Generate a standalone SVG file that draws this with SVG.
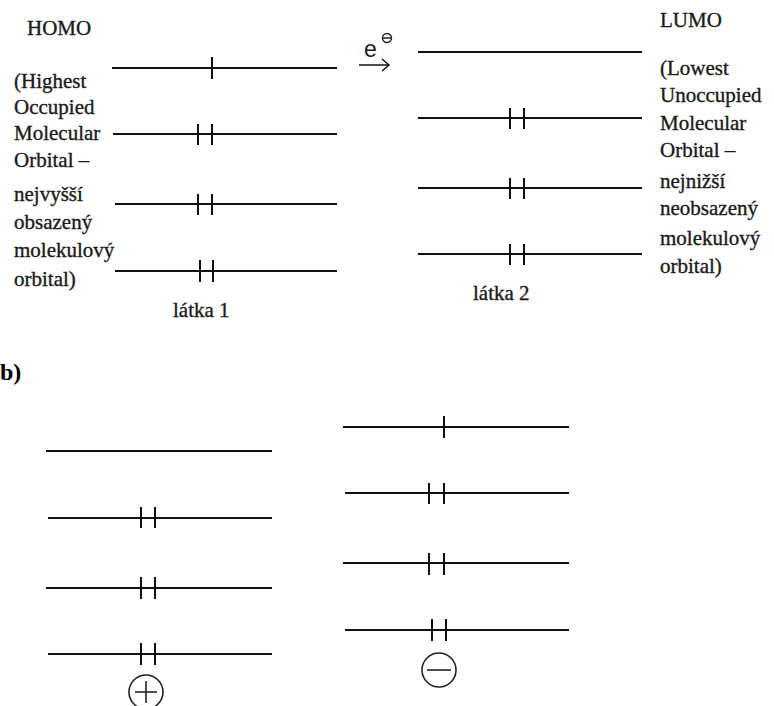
<svg xmlns="http://www.w3.org/2000/svg" width="774" height="706" viewBox="0 0 774 706">
<style>
.lv{stroke:#111;stroke-width:2;fill:none}
.tk{stroke:#111;stroke-width:2}
.t{font-family:"Liberation Serif","Times New Roman",serif;font-size:21px;fill:#1a1a1a;stroke:#1a1a1a;stroke-width:0.35}
.b{font-family:"Liberation Serif","Times New Roman",serif;font-size:24px;font-weight:bold;fill:#000}
.e{font-family:"Liberation Sans",Arial,sans-serif;font-size:23px;fill:#1a1a1a}
.c{stroke:#222;stroke-width:1.6;fill:none}
</style>
<rect width="774" height="706" fill="#fff"/>
<g id="label-homo">
<text class="t" x="27" y="35">HOMO</text>
<text class="t" x="14" y="88">(Highest</text>
<text class="t" x="14" y="114">Occupied</text>
<text class="t" x="14" y="140">Molecular</text>
<text class="t" x="14" y="167">Orbital –</text>
<text class="t" x="14" y="201">nejvyšší</text>
<text class="t" x="14" y="229">obsazený</text>
<text class="t" x="14" y="257">molekulový</text>
<text class="t" x="14" y="286">orbital)</text>
</g>
<g id="label-lumo">
<text class="t" x="660" y="27">LUMO</text>
<text class="t" x="660" y="75">(Lowest</text>
<text class="t" x="660" y="102">Unoccupied</text>
<text class="t" x="660" y="130">Molecular</text>
<text class="t" x="660" y="157">Orbital –</text>
<text class="t" x="660" y="188">nejnižší</text>
<text class="t" x="660" y="215">neobsazený</text>
<text class="t" x="660" y="245">molekulový</text>
<text class="t" x="660" y="273">orbital)</text>
</g>
<g id="s1-level1"><line class="lv" x1="112" y1="68" x2="337" y2="68"/><line class="tk" x1="212" y1="57" x2="212" y2="79"/></g>
<g id="s1-level2"><line class="lv" x1="113" y1="134" x2="337" y2="134"/><line class="tk" x1="198" y1="124" x2="198" y2="145"/><line class="tk" x1="212" y1="124" x2="212" y2="145"/></g>
<g id="s1-level3"><line class="lv" x1="115" y1="204" x2="337" y2="204"/><line class="tk" x1="198" y1="194" x2="198" y2="215"/><line class="tk" x1="212" y1="194" x2="212" y2="215"/></g>
<g id="s1-level4"><line class="lv" x1="115" y1="271" x2="337" y2="271"/><line class="tk" x1="200" y1="260" x2="200" y2="282"/><line class="tk" x1="213" y1="260" x2="213" y2="282"/></g>
<g id="label-latka1"><text class="t" x="173" y="317">látka 1</text></g>
<g id="s2-level1"><line class="lv" x1="418" y1="52" x2="642" y2="52"/></g>
<g id="s2-level2"><line class="lv" x1="418" y1="118" x2="642" y2="118"/><line class="tk" x1="510" y1="108" x2="510" y2="129"/><line class="tk" x1="524" y1="108" x2="524" y2="129"/></g>
<g id="s2-level3"><line class="lv" x1="418" y1="188" x2="642" y2="188"/><line class="tk" x1="510" y1="178" x2="510" y2="199"/><line class="tk" x1="524" y1="178" x2="524" y2="199"/></g>
<g id="s2-level4"><line class="lv" x1="418" y1="254" x2="642" y2="254"/><line class="tk" x1="510" y1="244" x2="510" y2="265"/><line class="tk" x1="524" y1="244" x2="524" y2="265"/></g>
<g id="label-latka2"><text class="t" x="473" y="300">látka 2</text></g>
<g id="label-b"><text class="b" x="0" y="380">b)</text></g>
<g id="b1-level1"><line class="lv" x1="46" y1="451" x2="272" y2="451"/></g>
<g id="b1-level2"><line class="lv" x1="48" y1="518" x2="272" y2="518"/><line class="tk" x1="141" y1="507" x2="141" y2="528"/><line class="tk" x1="155" y1="507" x2="155" y2="528"/></g>
<g id="b1-level3"><line class="lv" x1="46" y1="588" x2="272" y2="588"/><line class="tk" x1="141" y1="577" x2="141" y2="599"/><line class="tk" x1="155" y1="577" x2="155" y2="599"/></g>
<g id="b1-level4"><line class="lv" x1="48" y1="654" x2="272" y2="654"/><line class="tk" x1="141" y1="643" x2="141" y2="665"/><line class="tk" x1="155" y1="643" x2="155" y2="665"/></g>
<g id="plus-sign"><circle class="c" cx="146" cy="692" r="17"/><line class="c" x1="135" y1="692" x2="157" y2="692"/><line class="c" x1="146" y1="681" x2="146" y2="703"/></g>
<g id="b2-level1"><line class="lv" x1="343" y1="427" x2="569" y2="427"/><line class="tk" x1="444" y1="416" x2="444" y2="438"/></g>
<g id="b2-level2"><line class="lv" x1="345" y1="493" x2="569" y2="493"/><line class="tk" x1="429" y1="483" x2="429" y2="504"/><line class="tk" x1="444" y1="483" x2="444" y2="504"/></g>
<g id="b2-level3"><line class="lv" x1="343" y1="563" x2="569" y2="563"/><line class="tk" x1="429" y1="553" x2="429" y2="575"/><line class="tk" x1="444" y1="553" x2="444" y2="575"/></g>
<g id="b2-level4"><line class="lv" x1="345" y1="630" x2="569" y2="630"/><line class="tk" x1="432" y1="619" x2="432" y2="641"/><line class="tk" x1="446" y1="619" x2="446" y2="641"/></g>
<g id="minus-sign"><circle class="c" cx="439" cy="670" r="17"/><line class="c" x1="427" y1="670" x2="451" y2="670"/></g>
<g id="connectors">
<text class="e" x="364" y="57">e</text>
<circle cx="387" cy="38" r="4.5" fill="none" stroke="#222" stroke-width="1.5"/>
<line x1="383" y1="38" x2="391" y2="38" stroke="#222" stroke-width="1.5"/>
<line x1="359" y1="65" x2="389" y2="65" stroke="#111" stroke-width="1.5"/>
<path d="M382 59 L389 65 L382 71" fill="none" stroke="#111" stroke-width="1.5"/>
</g>
</svg>
